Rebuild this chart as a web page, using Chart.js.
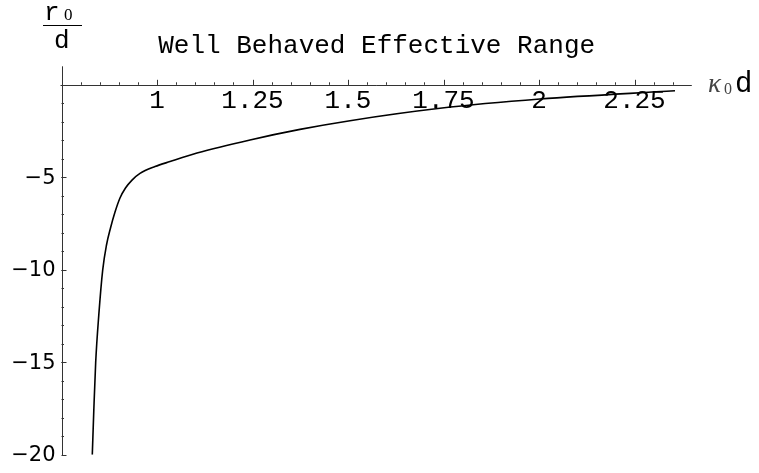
<!DOCTYPE html>
<html>
<head>
<meta charset="utf-8">
<script src="https://cdn.jsdelivr.net/npm/chart.js@4.4.0/dist/chart.umd.min.js"></script>
<style>
  html, body { margin: 0; padding: 0; background: #fff; }
  #wrap { width: 759px; height: 473px; }
</style>
</head>
<body>
<div id="wrap"><canvas id="c" width="759" height="473"></canvas></div>
<script>
// ---- data ----
const kappaD = [0.8306, 0.8346, 0.8395, 0.8476, 0.8579, 0.8678, 0.8783, 0.8901, 0.9031, 0.9175, 0.9346, 0.9555, 0.9948, 1.034, 1.1047, 1.2435, 1.3743, 1.5052, 1.7408, 2.0026, 2.356];
const r0OverD = [-20, -17.58, -15.0, -12.45, -10.0, -8.66, -7.74, -6.88, -6.12, -5.58, -5.15, -4.79, -4.42, -4.15, -3.69, -2.98, -2.41, -1.94, -1.27, -0.77, -0.32];

const xTicks = [1, 1.25, 1.5, 1.75, 2, 2.25];
const xTickLabels = ['1', '1.25', '1.5', '1.75', '2', '2.25'];
const yTicks = [-5, -10, -15, -20];
const yTickLabels = ['\u22125', '\u221210', '\u221215', '\u221220'];
const xMinorFrom = 0.8, xMinorTo = 2.35, xMinorStep = 0.05;
const yMinorFrom = -19, yMinorTo = -1, yMinorStep = 1;
const titleText = 'Well Behaved Effective Range';

const points = kappaD.map((x, i) => ({ x: x, y: r0OverD[i] }));

const axesPlugin = {
  id: 'mathAxes',
  beforeDatasetsDraw(chart) {
    const ctx = chart.ctx;
    const xs = chart.scales.x, ys = chart.scales.y;
    const ca = chart.chartArea;
    const y0 = ys.getPixelForValue(0);
    const xAxisX = xs.getPixelForValue(0.75);
    ctx.save();
    ctx.strokeStyle = '#333';
    ctx.lineWidth = 1;
    ctx.beginPath();
    ctx.moveTo(ca.left - 1, Math.round(y0) + 0.5);
    ctx.lineTo(ca.right, Math.round(y0) + 0.5);
    ctx.moveTo(Math.round(xAxisX) + 0.5, ca.top);
    ctx.lineTo(Math.round(xAxisX) + 0.5, ys.getPixelForValue(-20) + 0.5);
    for (let v = xMinorFrom; v <= xMinorTo + 1e-9; v += xMinorStep) {
      const px = Math.round(xs.getPixelForValue(v)) + 0.5;
      ctx.moveTo(px, y0);
      ctx.lineTo(px, y0 - 2.5);
    }
    xTicks.forEach(v => {
      const px = Math.round(xs.getPixelForValue(v)) + 0.5;
      ctx.moveTo(px, y0);
      ctx.lineTo(px, y0 - 5);
    });
    for (let v = yMinorFrom; v <= yMinorTo + 1e-9; v += yMinorStep) {
      const py = Math.round(ys.getPixelForValue(v)) + 0.5;
      ctx.moveTo(xAxisX, py);
      ctx.lineTo(xAxisX + 2.5, py);
    }
    yTicks.forEach(v => {
      const py = Math.round(ys.getPixelForValue(v)) + 0.5;
      ctx.moveTo(xAxisX, py);
      ctx.lineTo(xAxisX + 5, py);
    });
    ctx.stroke();
    ctx.restore();
  },
  afterDraw(chart) {
    const ctx = chart.ctx;
    const xs = chart.scales.x, ys = chart.scales.y;
    const ca = chart.chartArea;
    const y0 = ys.getPixelForValue(0);
    const xAxisX = xs.getPixelForValue(0.75);
    ctx.save();
    ctx.fillStyle = '#000';
    ctx.font = '26px "Liberation Mono", monospace';
    ctx.textAlign = 'center';
    ctx.textBaseline = 'alphabetic';
    ctx.fillText(titleText, (ca.left + ca.right) / 2, 52.5);
    xTicks.forEach((v, i) => {
      ctx.fillText(xTickLabels[i], xs.getPixelForValue(v), y0 + 23.5);
    });
    ctx.font = '21px "DejaVu Sans", sans-serif';
    ctx.textAlign = 'right';
    ctx.textBaseline = 'middle';
    yTicks.forEach((v, i) => {
      ctx.fillText(yTickLabels[i], xAxisX - 6, ys.getPixelForValue(v) + 1);
    });
    // y axis label r0 / d
    ctx.textAlign = 'left';
    ctx.textBaseline = 'alphabetic';
    ctx.font = '26px "Liberation Mono", monospace';
    ctx.fillText('r', 44, 20);
    ctx.font = '17px "Liberation Serif", serif';
    ctx.fillText('0', 64, 19.5);
    ctx.fillRect(43, 25, 39, 1);
    ctx.font = '26px "Liberation Mono", monospace';
    ctx.fillText('d', 54, 48);
    // x axis label kappa0 d
    ctx.fillStyle = '#444';
    ctx.font = 'italic 27px "Liberation Serif", serif';
    ctx.fillText('\u03ba', 708, 92);
    ctx.font = '16px "Liberation Serif", serif';
    ctx.fillText('0', 724, 94);
    ctx.fillStyle = '#000';
    ctx.font = '29px "Liberation Mono", monospace';
    ctx.fillText('d', 735, 92);
    ctx.restore();
  }
};

new Chart(document.getElementById('c'), {
  type: 'scatter',
  data: {
    datasets: [{
      data: points,
      showLine: true,
      borderColor: '#000',
      borderWidth: 1.6,
      pointRadius: 0,
      fill: false,
      cubicInterpolationMode: 'monotone'
    }]
  },
  options: {
    responsive: false,
    animation: false,
    layout: { padding: { left: 61.5, right: 67.2, top: 66.3, bottom: 18.2 } },
    plugins: { legend: { display: false }, tooltip: { enabled: false }, title: { display: false } },
    scales: {
      x: { type: 'linear', min: 0.75, max: 2.4, display: false },
      y: { type: 'linear', min: -20, max: 1, display: false }
    }
  },
  plugins: [axesPlugin]
});
</script>
</body>
</html>
